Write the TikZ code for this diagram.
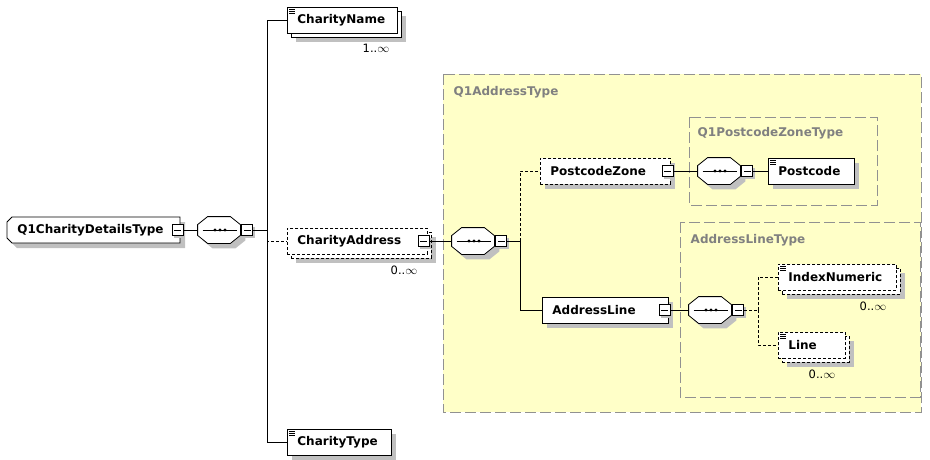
\documentclass[tikz,border=0pt]{standalone}
\usepackage{fontspec}
\setmainfont{DejaVu Sans}
\usetikzlibrary{shadows,backgrounds}
\definecolor{typefill}{RGB}{255,255,200}
\definecolor{typeline}{RGB}{145,145,145}
\definecolor{typetext}{RGB}{128,128,128}
\definecolor{shadowgray}{RGB}{192,192,192}
\newcommand\minusbar{\rule[-.4pt]{7pt}{.8pt}}
% octagon round a node: #1 node, #2 cut along x, #3 cut along y
\newcommand\octpath[3]{([xshift=#2]#1.north west) -- ([xshift=-#2]#1.north east)
  -- ([yshift=-#3]#1.north east) -- ([yshift=#3]#1.south east)
  -- ([xshift=-#2]#1.south east) -- ([xshift=#2]#1.south west)
  -- ([yshift=#3]#1.south west) -- ([yshift=-#3]#1.north west) -- cycle}
\hyphenpenalty=10000

\begin{document}
\begin{tikzpicture}[x=1pt,y=-1pt,line width=.8pt,
    font=\fontsize{12}{14}\selectfont\bfseries,
    box/.style={draw, fill=white, minimum height=26pt, inner xsep=10pt, inner ysep=0pt, anchor=west, align=left},
    elem/.style={box, general shadow={fill=shadowgray, shadow xshift=5pt, shadow yshift=-5pt}},
    multi/.style={box, general shadow={fill=shadowgray, shadow xshift=9pt, shadow yshift=-9pt},
      general shadow={draw, fill=white, shadow xshift=4pt, shadow yshift=-4pt}},
    opt/.style={dash pattern=on 3pt off 2pt},
    seq/.style={minimum width=42pt, minimum height=26pt, inner sep=0pt},
    minus/.style={draw, fill=white, minimum size=11pt, inner sep=0pt,
      general shadow={fill=shadowgray, shadow xshift=2pt, shadow yshift=-2pt}},
    typebox/.style={draw=typeline, line width=1pt, dash pattern=on 11pt off 4pt},
    typelabel/.style={text=typetext, anchor=west},
    card/.style={font=\fontsize{11.5}{13}\selectfont}]
  \useasboundingbox (0,0) rectangle (930,459);

  % type boxes
  \begin{scope}[on background layer]
    \draw[typebox, fill=typefill] (443,74) rectangle (921,412);
    \draw[typebox] (689,117) rectangle (877,205);
    \draw[typebox] (680,222) rectangle (920,397);
  \end{scope}
  \node[typelabel] (addrtype) at (450,92) {Q1AddressType};
  \node[typelabel] (pcztype) at (694,133) {Q1PostcodeZoneType};
  \node[typelabel] (altype) at (687,240) {AddressLineType};

  % sequences
  \node[seq] (seq0) at (219,230) {};
  \node[seq] (seq1) at (473,241) {};
  \node[seq] (seq2) at (719,171) {};
  \node[seq] (seq3) at (710,310) {};
  \foreach \s in {seq0,seq1,seq2,seq3} {
    \path[fill=shadowgray, transform canvas={shift={(5pt,-5pt)}}] \octpath{\s}{10pt}{8pt};
    \path[draw=black, fill=white] \octpath{\s}{10pt}{8pt};
    \draw ([xshift=5pt]\s.west) -- ([xshift=-3pt]\s.east);
    \foreach \dx in {-4,1,6}
      \fill ([xshift=\dx pt]\s.center) circle (1.6pt);
    \node[minus, anchor=west] (\s-m) at ([xshift=1pt]\s.east) {\minusbar};
  }

  % Q1CharityDetailsType
  \path[fill=shadowgray] (17,222) -- (185,222) -- (185,248) -- (17,248) -- (12,243) -- (12,227) -- cycle;
  \path[draw=black, fill=white] (12,217) -- (180,217) -- (180,243) -- (12,243) -- (7,238) -- (7,222) -- cycle;
  \node[box, draw=none, fill=none, text width=153pt] (top) at (7,230) {Q1CharityDetailsType};
  \node[minus] (top-m) at ([xshift=-3pt]top.east) {\minusbar};
  \coordinate (bar0) at (267,230);

  \node[multi, text width=90pt] (name) at (287,20) {CharityName};
  \node[card] (name-c) at (376,48) {1..$\infty$};
  \node[multi, opt, text width=120pt] (addr) at (287,241) {CharityAddress};
  \node[minus] (addr-m) at ([xshift=-4pt]addr.east) {\minusbar};
  \node[card] (addr-c) at (404,270) {0..$\infty$};
  \node[elem, text width=84pt] (type) at (287,442) {CharityType};

  % Q1AddressType
  \coordinate (bar1) at (520,241);
  \node[elem, opt, text width=110pt] (pcz) at (540,171) {PostcodeZone};
  \node[minus] (pcz-m) at ([xshift=-3pt]pcz.east) {\minusbar};
  \node[elem, text width=66pt] (pc) at (768,171) {Postcode};

  \node[elem, text width=106pt] (al) at (542,310) {AddressLine};
  \node[minus] (al-m) at ([xshift=-4pt]al.east) {\minusbar};
  \coordinate (bar3) at (758,310);
  \node[multi, opt, text width=98pt] (idx) at (778,277) {IndexNumeric};
  \node[card] (idx-c) at (873,306) {0..$\infty$};
  \node[multi, opt, text width=47pt] (line) at (778,345) {Line};
  \node[card] (line-c) at (822,374) {0..$\infty$};

  % simple type marks
  \foreach \n in {name,pc,idx,line,type}
    \foreach \d in {3,5,7}
      \draw[line width=.6pt] ([shift={(2pt,-\d pt)}]\n.north west) -- ++(6pt,0);

  % connectors
  \draw (top-m) -- (seq0);
  \draw (seq0-m) -- (bar0);
  \draw (bar0) |- (name);
  \draw (bar0) |- (type);
  \draw[opt] (bar0) |- (addr);
  \draw (addr-m) -- (seq1);
  \draw (seq1-m) -- (bar1);
  \draw[opt] (bar1) |- (pcz);
  \draw (bar1) |- (al);
  \draw (pcz-m) -- (seq2);
  \draw (seq2-m) -- (pc);
  \draw (al-m) -- (seq3);
  \draw[opt] (seq3-m) -- (bar3);
  \draw[opt] (bar3) |- (idx);
  \draw[opt] (bar3) |- (line);
\end{tikzpicture}
\end{document}
